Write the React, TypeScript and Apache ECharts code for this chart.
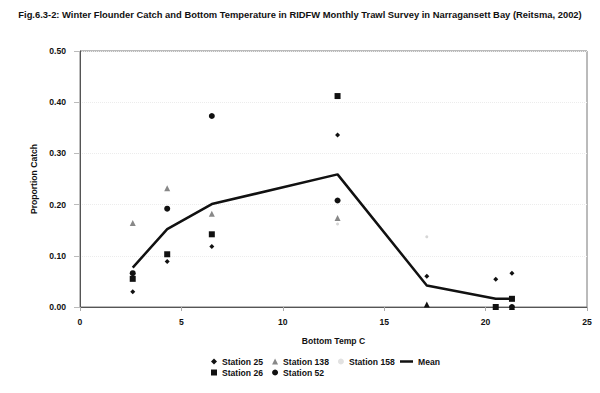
import React, { useEffect, useRef } from "react";
import * as echarts from "echarts";

const titleText =
  "Fig.6.3-2: Winter Flounder Catch and Bottom Temperature in RIDFW Monthly Trawl Survey in Narragansett Bay (Reitsma, 2002)";
const temps = [2.6, 4.3, 6.5, 12.7, 17.1, 20.5, 21.3];
const station25 = [0.03, 0.089, 0.118, 0.336, 0.06, 0.054, 0.066];
const station26 = [0.055, 0.103, 0.142, 0.412, null, 0.0, 0.016];
const station138 = [0.164, 0.232, 0.182, 0.174, 0.005, null, 0.0];
const station52 = [0.066, 0.192, 0.373, 0.208, null, null, 0.0];
const station158 = [null, null, null, 0.162, 0.137, null, null];
const meanCatch = [0.077, 0.152, 0.201, 0.259, 0.042, 0.016, 0.016];
const xTicks = [0, 5, 10, 15, 20, 25];
const yTicks = [0, 0.1, 0.2, 0.3, 0.4, 0.5];

const pairs = (ys: (number | null)[]) =>
  temps.map((t, i) => [t, ys[i]]).filter((p) => p[1] !== null);

const FONT = "'Liberation Sans', Arial, sans-serif";

export default function App() {
  const ref = useRef<HTMLDivElement>(null);
  useEffect(() => {
    if (!ref.current) return;
    const chart = echarts.init(ref.current, undefined, { renderer: "svg" });
    const txt = { fontFamily: FONT, fontWeight: "bold" as const, fontSize: 8.6, color: "#111" };
    chart.setOption({
      animation: false,
      backgroundColor: "#fff",
      title: {
        text: titleText,
        left: "center",
        top: 5,
        textStyle: { fontFamily: FONT, fontWeight: "bold", fontSize: 9.4, color: "#111" },
      },
      legend: [
        {
          data: [
            { name: "Station 25", icon: "diamond", itemStyle: { color: "#111" } },
            { name: "Station 138", icon: "triangle", itemStyle: { color: "#888" } },
            { name: "Station 158", icon: "circle", itemStyle: { color: "#e2e2e2" } },
          ],
          left: 211,
          top: 357,
          itemWidth: 6,
          itemHeight: 6,
          itemGap: 9,
          padding: 0,
          textStyle: txt,
        },
        {
          data: [{ name: "Mean", icon: "rect", itemStyle: { color: "#111" } }],
          left: 400,
          top: 357,
          itemWidth: 13,
          itemHeight: 2.5,
          padding: 0,
          textStyle: txt,
        },
        {
          data: [
            { name: "Station 26", icon: "rect", itemStyle: { color: "#111" } },
            { name: "Station 52", icon: "circle", itemStyle: { color: "#111" } },
          ],
          left: 211,
          top: 368,
          itemWidth: 6,
          itemHeight: 6,
          itemGap: 9,
          padding: 0,
          textStyle: txt,
        },
      ],
      grid: {
        left: 80,
        right: 13,
        top: 51,
        bottom: 86,
        show: true,
        borderColor: "#777",
        borderWidth: 1,
      },
      xAxis: {
        type: "value",
        min: xTicks[0],
        max: xTicks[xTicks.length - 1],
        interval: 5,
        name: "Bottom Temp C",
        nameLocation: "middle",
        nameGap: 29,
        nameTextStyle: txt,
        axisLine: { lineStyle: { color: "#555" } },
        axisTick: { show: true, inside: false, length: 4, lineStyle: { color: "#aaa" } },
        axisLabel: { ...txt, margin: 10 },
        splitLine: { show: false },
      },
      yAxis: {
        type: "value",
        min: yTicks[0],
        max: yTicks[yTicks.length - 1],
        interval: 0.1,
        name: "Proportion Catch",
        nameLocation: "middle",
        nameGap: 32,
        nameTextStyle: txt,
        axisLine: { show: true, lineStyle: { color: "#555" } },
        axisTick: { show: true, length: 6, lineStyle: { color: "#bbb" } },
        axisLabel: { ...txt, margin: 14, formatter: (v: number) => v.toFixed(2) },
        splitLine: { show: true, lineStyle: { color: "#ececec", type: "dotted" } },
      },
      series: [
        {
          name: "Station 25",
          type: "scatter",
          symbol: "diamond",
          symbolSize: 5,
          itemStyle: { color: "#111", opacity: 1 },
          data: pairs(station25),
        },
        {
          name: "Station 138",
          type: "scatter",
          symbol: "triangle",
          symbolSize: 6,
          itemStyle: {
            opacity: 1,
            color: (p: any) => (p.value[1] < 0.01 ? "#111" : "#888"),
          },
          data: pairs(station138),
        },
        {
          name: "Station 158",
          type: "scatter",
          symbol: "circle",
          symbolSize: 3,
          itemStyle: { color: "#d6d6d6", opacity: 1 },
          data: pairs(station158),
        },
        {
          name: "Station 26",
          type: "scatter",
          symbol: "rect",
          symbolSize: 6,
          itemStyle: { color: "#111", opacity: 1 },
          data: pairs(station26),
        },
        {
          name: "Station 52",
          type: "scatter",
          symbol: "circle",
          symbolSize: 6,
          itemStyle: { color: "#111", opacity: 1 },
          data: pairs(station52),
        },
        {
          name: "Mean",
          type: "line",
          showSymbol: false,
          symbol: "none",
          lineStyle: { color: "#111", width: 2.5 },
          itemStyle: { color: "#111" },
          data: pairs(meanCatch),
        },
      ],
    });
    return () => chart.dispose();
  }, []);
  return <div ref={ref} style={{ width: 600, height: 393, position: "absolute", left: 0, top: 0 }} />;
}
